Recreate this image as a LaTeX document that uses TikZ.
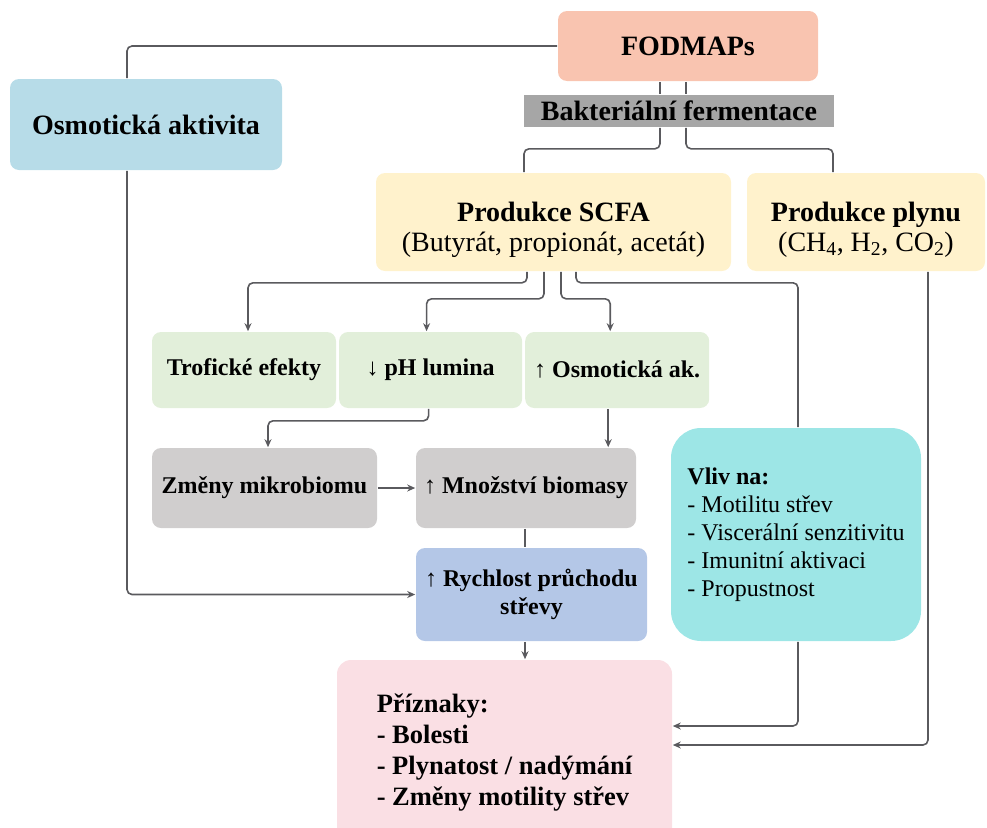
\documentclass[tikz,border=0pt]{standalone}
\usepackage{fontspec}
\setmainfont{Liberation Serif}
\usetikzlibrary{arrows.meta, positioning}
\definecolor{fmSalmon}{HTML}{F9C4B0}
\definecolor{fmBar}{HTML}{A6A6A6}
\definecolor{fmSky}{HTML}{B7DCE8}
\definecolor{fmCream}{HTML}{FFF2CC}
\definecolor{fmGreen}{HTML}{E2EFDA}
\definecolor{fmStone}{HTML}{D0CECE}
\definecolor{fmBlue}{HTML}{B4C7E7}
\definecolor{fmAqua}{HTML}{9DE6E6}
\definecolor{fmPink}{HTML}{FADFE4}
\definecolor{fmLine}{HTML}{5A5A5E}
\newcommand{\fbig}{\fontsize{28}{30}\selectfont}
\newcommand{\fmid}{\fontsize{26.5}{31}\selectfont}
\newcommand{\fsmall}{\fontsize{24}{28}\selectfont}
\tikzset{
  % pixel-sized units, so sizes below read straight off the layout
  every picture/.append style = {line width=1.6pt, >={Stealth[length=8pt, width=7pt]}},
  box/.style   = {rounded corners=9pt, inner sep=0pt, align=center, font=\fsmall\bfseries},
  link/.style  = {draw=fmLine, rounded corners=5pt},
  arr/.style   = {link, ->},
}

\begin{document}
\begin{tikzpicture}[x=1pt, y=-1pt]
  \useasboundingbox (0,0) rectangle (987,827);
  % sources
  \node[box, fill=fmSalmon, minimum width=260, minimum height=70, font=\fbig\bfseries] (fodmap) at (688,46) {FODMAPs};
  \node[fill=fmBar, minimum width=310, minimum height=32, inner sep=0pt, font=\fbig\bfseries] (ferment) at (679,111) {Bakteriální fermentace};
  \node[box, fill=fmSky, minimum width=272, minimum height=91, font=\fbig\bfseries] (osmo) at (146,124.5) {Osmotická aktivita};
  % products
  \node[box, fill=fmCream, minimum width=355, minimum height=98, font=\fbig] (scfa) at (553.5,222)
    {\rule{0pt}{35pt}{\bfseries Produkce SCFA}\\(Butyrát, propionát, acetát)};
  \node[box, fill=fmCream, minimum width=238, minimum height=98, font=\fbig] (plyn) at (866,222)
    {\rule{0pt}{35pt}{\bfseries Produkce plynu}\\(CH\textsubscript{4}, H\textsubscript{2}, CO\textsubscript{2})};
  % SCFA effects
  \node[box, fill=fmGreen, minimum width=184, minimum height=76] (trof) at (244,370) {Trofické efekty};
  \node[box, fill=fmGreen, minimum width=183, minimum height=76, right=1.5pt of trof] (ph) {↓ pH lumina};
  \node[box, fill=fmGreen, minimum width=184, minimum height=76, right=1.5pt of ph] (osmak) {↑ Osmotická ak.};
  % lower chain
  \node[box, fill=fmStone, minimum width=225, minimum height=80] (mikro) at (264.5,488) {Změny mikrobiomu};
  \node[box, fill=fmStone, minimum width=220, minimum height=80] (biomasa) at (526,488) {↑ Množství biomasy};
  \node[box, fill=fmBlue, minimum width=231, minimum height=93] (pruchod) at (531.5,594.5) {↑ Rychlost průchodu\\střevy};
  \node[box, fill=fmAqua, rounded corners=30pt, minimum width=250, minimum height=213, align=left, font=\fsmall] (vliv) at (796,534.5)
    {\textbf{Vliv na:}\\- Motilitu střev\\- Viscerální senzitivitu\\- Imunitní aktivaci\\- Propustnost};
  \node[box, fill=fmPink, rounded corners=14pt, minimum width=335, minimum height=185, align=left, font=\fmid\bfseries] (priznaky) at (504.5,752.5)
    {Příznaky:\\- Bolesti\\- Plynatost / nadýmání\\- Změny motility střev};
  % FODMAPs branches
  \draw[link] (fodmap.west) -| ([xshift=-19pt]osmo.north);
  \draw[arr] ([xshift=-19pt]osmo.south) |- (pruchod.west);
  \draw[link] ([xshift=-28pt]fodmap.south) -- ([xshift=-28pt]fodmap.south |- ferment.north);
  \draw[link] ([xshift=-2pt]fodmap.south) -- ([xshift=-2pt]fodmap.south |- ferment.north);
  \draw[link] ([xshift=-19pt]ferment.south) -- ++(0,21) -| ([xshift=-29.5pt]scfa.north);
  \draw[link] ([xshift=7pt]ferment.south) -- ++(0,21) -| ([xshift=-33pt]plyn.north);
  % SCFA branches
  \draw[arr] ([xshift=-26.5pt]scfa.south) -- ++(0,11) -| ([xshift=4pt]trof.north);
  \draw[arr] ([xshift=-9.5pt]scfa.south) -- ++(0,27) -| ([xshift=-4pt]ph.north);
  \draw[arr] ([xshift=7.5pt]scfa.south) -- ++(0,27) -| ([xshift=-7pt]osmak.north);
  \draw[link] ([xshift=22.5pt]scfa.south) -- ++(0,11) -| ([xshift=2pt]vliv.north);
  % towards transit
  \draw[arr] ([xshift=-2pt]ph.south) -- ++(0,12) -| ([xshift=3.5pt]mikro.north);
  \draw[arr] ([xshift=-9pt]osmak.south) -- ([xshift=-9pt]osmak.south |- biomasa.north);
  \draw[arr] (mikro.east) -- (biomasa.west);
  \draw[link] ([xshift=-1pt]biomasa.south) -- ([xshift=-1pt]biomasa.south |- pruchod.north);
  \draw[arr] ([xshift=-6.5pt]pruchod.south) -- ([xshift=-6.5pt]pruchod.south |- priznaky.north);
  % into symptoms
  \draw[arr] ([xshift=2pt]vliv.south) |- ([yshift=26.5pt]priznaky.east);
  \draw[arr] ([xshift=62pt]plyn.south) |- ([yshift=7.5pt]priznaky.east);
\end{tikzpicture}
\end{document}
